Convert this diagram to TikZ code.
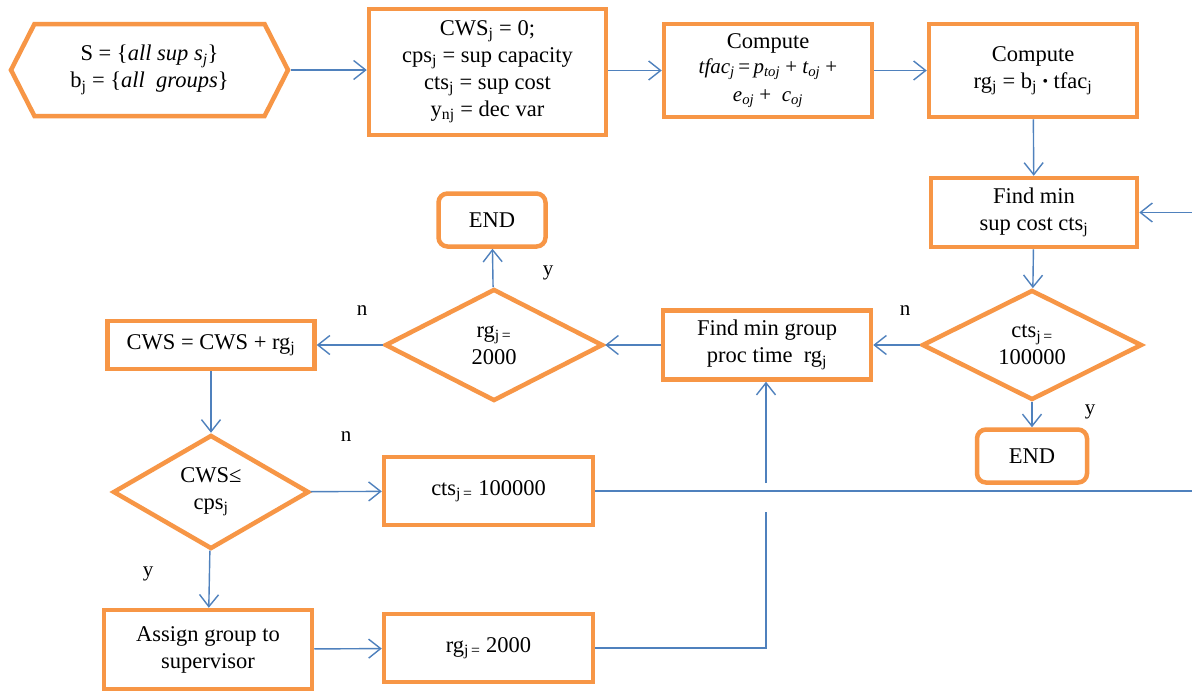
\documentclass[tikz,border=0pt]{standalone}
\usepackage{fontspec}
\setmainfont{Liberation Serif}
\usetikzlibrary{arrows.meta,shapes.geometric,shapes.symbols}
\definecolor{boxorange}{HTML}{F79646}
\definecolor{linkblue}{HTML}{4F81BD}
\newcommand\sub[1]{\textsubscript{#1}}
\newcommand\isub[1]{\textsubscript{\itshape #1}}
\newcommand\formfont{\fontsize{21}{27}\selectfont\itshape}

\begin{document}
\begin{tikzpicture}[x=1pt,y=-1pt,
  txt/.style={font=\fontsize{22.5}{27}\selectfont, align=center, text=black},
  box/.style={txt, rectangle, draw=boxorange, line width=4.5pt, fill=white, inner sep=2pt},
  rbox/.style={box, rounded corners=9pt},
  decide/.style={txt, diamond, draw=boxorange, line width=4.5pt, fill=white, inner sep=0pt},
  flow/.style={draw=linkblue, line width=1.4pt,
    -{Straight Barb[length=12pt,width=19pt,line width=1.4pt]}},
  plain/.style={draw=linkblue, line width=1.4pt},
  lbl/.style={font=\fontsize{21}{24}\selectfont, inner sep=0pt}
]
\useasboundingbox (0,0) rectangle (1192,694);
\fill[white] (0,0) rectangle (1192,694);

% top row
\node[txt, signal, signal to=west and east, signal pointer angle=126,
      draw=boxorange, line width=4.5pt, fill=white,
      minimum width=277pt, minimum height=92pt, inner sep=0pt] (hex) at (149.5,70)
  {S = \{\textit{all sup s}\isub{j}\}\\ b\sub{j} = \{\textit{all\ \ groups}\}};
\node[box, minimum width=237pt, minimum height=126pt] (init) at (487.5,72)
  {CWS\sub{j} = 0;\\ cps\sub{j} = sup capacity\\ cts\sub{j} = sup cost\\ y\sub{nj} = dec var};
\node[box, minimum width=208pt, minimum height=93pt] (comp1) at (768,70.5)
  {Compute\\[-2pt]
   \formfont tfac\sub{j}\,\textup{=}\,p\sub{toj} \textup{+} t\sub{oj} \textup{+}\\[1pt]
   \formfont e\sub{oj} \textup{+}\ \ c\sub{oj}};
\node[box, minimum width=208pt, minimum height=93pt] (comp2) at (1033,70.5)
  {Compute\\ rg\sub{j} = b\sub{j} \raisebox{2pt}{\scalebox{0.7}{\textbullet}} tfac\sub{j}};

% right column
\node[box, minimum width=206pt, minimum height=69pt] (findsup) at (1034,212.5)
  {Find min\\ sup cost cts\sub{j}};
\node[decide, minimum width=220pt, minimum height=110pt] (dcts) at (1032,345)
  {cts\sub{j\,=}\\ 100000};
\node[rbox, minimum width=110pt, minimum height=53pt] (end1) at (1032,456) {END};

% middle row
\node[box, minimum width=208pt, minimum height=69pt] (findgrp) at (767,345)
  {Find min group\\ proc time\ \ rg\sub{j}};
\node[decide, minimum width=218pt, minimum height=112pt] (drg) at (494,345)
  {rg\sub{j\,=}\\ 2000};
\node[rbox, minimum width=107pt, minimum height=53pt] (end2) at (492,220) {END};
\node[box, minimum width=207pt, minimum height=48pt] (cwsupd) at (211,345)
  {CWS = CWS + rg\sub{j}};

% lower rows
\node[decide, minimum width=196pt, minimum height=114pt] (dcws) at (211,492)
  {CWS≤\\ cps\sub{j}};
\node[box, minimum width=209pt, minimum height=68pt] (cts100) at (488.5,491)
  {cts\sub{j\,=}\ 100000};
\node[box, minimum width=208pt, minimum height=79pt] (assign) at (208,649.5)
  {Assign group to\\ supervisor};
\node[box, minimum width=209pt, minimum height=68pt] (rg2000) at (488.5,648)
  {rg\sub{j\,=}\ 2000};

% branch labels
\node[lbl] (y1) at (548,273) {y};
\node[lbl] (n1) at (362,311) {n};
\node[lbl] (n2) at (905,311) {n};
\node[lbl] (y2) at (1090,412) {y};
\node[lbl] (n3) at (346,437) {n};
\node[lbl] (y3) at (148,574) {y};

% loose ends and bends
\coordinate (edgeLow) at (1192,491);
\coordinate (edgeHigh) at (1192,212.5);
\coordinate (bend) at (766,648);
\coordinate (gapLow) at (766,512);
\coordinate (gapHigh) at (766,483);

% connectors
\draw[flow] (hex.east) -- (init.west |- hex.east);
\draw[flow] (init.east |- comp1.west) -- (comp1.west);
\draw[flow] (comp1) -- (comp2);
\draw[flow] (comp2) -- (findsup);
\draw[flow] (findsup) -- (dcts);
\draw[flow] (dcts) -- (end1);
\draw[flow] (dcts) -- (findgrp);
\draw[flow] (findgrp) -- (drg);
\draw[flow] (drg) -- (end2);
\draw[flow] (drg) -- (cwsupd);
\draw[flow] (cwsupd) -- (dcws);
\draw[flow] (dcws) -- (cts100);
\draw[flow] (dcws) -- (assign);
\draw[flow] (assign) -- (rg2000);
\draw[plain] (cts100.east) -- (edgeLow);
\draw[flow] (edgeHigh) -- (findsup.east);
\draw[plain] (rg2000.east) -- (bend) -- (gapLow);
\draw[flow] (gapHigh) -- (findgrp.south -| gapHigh);
\end{tikzpicture}
\end{document}
